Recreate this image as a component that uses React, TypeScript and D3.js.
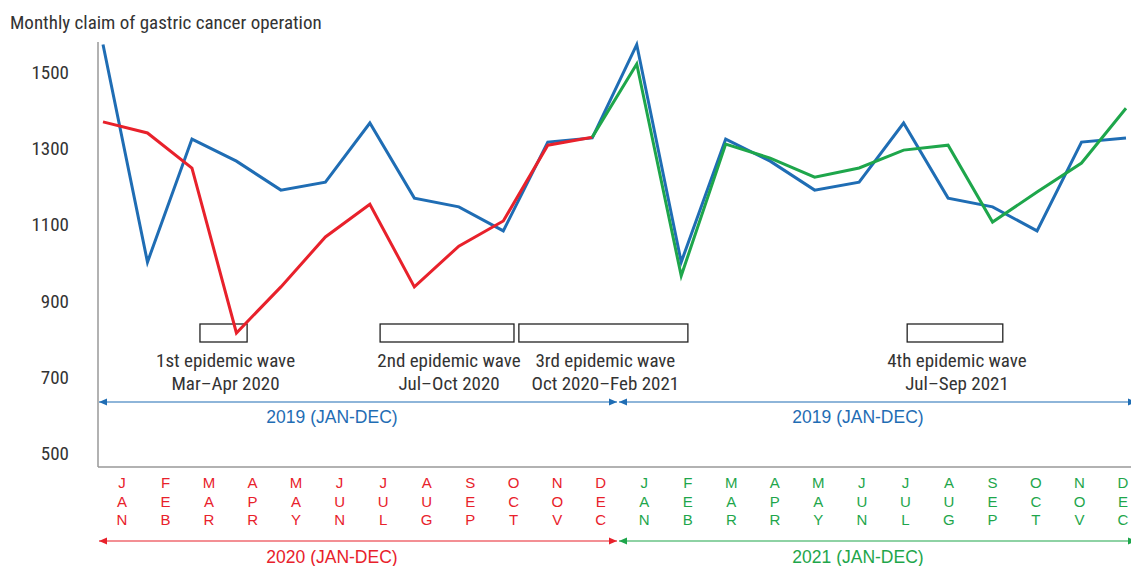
import React from "react";
import * as d3 from "d3";

const months = ["JAN", "FEB", "MAR", "APR", "MAY", "JUN", "JUL", "AUG", "SEP", "OCT", "NOV", "DEC"];
const yTicks = [500, 700, 900, 1100, 1300, 1500];
const values2019 = [1572, 1001, 1324, 1266, 1190, 1211, 1366, 1169, 1146, 1083, 1316, 1327];
const values2020 = [1369, 1340, 1248, 815, 936, 1067, 1153, 936, 1043, 1109, 1308, 1329];
const values2021 = [1521, 965, 1311, 1274, 1224, 1248, 1295, 1308, 1106, 1185, 1261, 1405];

const waves = [
  { from: 2.18, to: 3.24, line1: "1st epidemic wave", line2: "Mar–Apr 2020" },
  { from: 6.23, to: 9.24, line1: "2nd epidemic wave", line2: "Jul–Oct 2020" },
  { from: 9.35, to: 13.15, line1: "3rd epidemic wave", line2: "Oct 2020–Feb 2021" },
  { from: 18.08, to: 20.23, line1: "4th epidemic wave", line2: "Jul–Sep 2021" },
];

const BLUE = "#1f6db4";
const RED = "#e8212b";
const GREEN = "#1ea64b";
const TEXT = "#333";
const NARROW = "'Liberation Sans Narrow', 'Roboto Condensed', Roboto, sans-serif";
const SANS = "'Liberation Sans', Arial, sans-serif";

export default function App() {
  const W = 1131;
  const H = 566;
  const y = d3.scaleLinear().domain([500, 1500]).range([453, 72]);
  const x = d3.scaleLinear().domain([0, 23]).range([103, 1126]);
  const xl = d3.scaleLinear().domain([0, 23]).range([122, 1123]);

  const line = d3
    .line<[number, number]>()
    .x((d) => x(d[0]))
    .y((d) => y(d[1]));

  const bluePts: [number, number][] = [...values2019, ...values2019].map((v, i) => [i, v]);
  const redPts: [number, number][] = values2020.map((v, i) => [i, v]);
  const greenPts: [number, number][] = [[11, values2020[11]] as [number, number]].concat(
    values2021.map((v, i) => [i + 12, v] as [number, number])
  );

  const axisLeft = 98;
  const axisBottom = 467;
  const axisTop = 42;

  const arrow = (x1: number, x2: number, yy: number, color: string, label: string, labelX: number, labelY: number, key: string) => (
    <g key={key}>
      <line x1={x1} x2={x2} y1={yy} y2={yy} stroke={color} strokeWidth={1.2} />
      <path d={`M${x1},${yy} L${x1 + 8},${yy - 3.5} L${x1 + 8},${yy + 3.5} Z`} fill={color} />
      <path d={`M${x2},${yy} L${x2 - 8},${yy - 3.5} L${x2 - 8},${yy + 3.5} Z`} fill={color} />
      <text x={labelX} y={labelY} textAnchor="middle" fontFamily={SANS} fontSize={17.5} fill={color}>
        {label}
      </text>
    </g>
  );

  return (
    <svg width={W} height={H} style={{ position: "absolute", left: 0, top: 0, background: "#fff" }}>
      <text x={10} y={29} fontFamily={NARROW} fontSize={19} fill={TEXT}>
        Monthly claim of gastric cancer operation
      </text>

      {yTicks.map((t) => (
        <text key={t} x={69} y={y(t) + 7} textAnchor="end" fontFamily={NARROW} fontSize={19} fill={TEXT}>
          {t}
        </text>
      ))}

      <line x1={axisLeft} x2={axisLeft} y1={axisTop} y2={axisBottom} stroke="#999" strokeWidth={1.5} />
      <line x1={axisLeft} x2={W} y1={axisBottom} y2={axisBottom} stroke="#999" strokeWidth={1.5} />

      {waves.map((w, i) => {
        const x1 = x(w.from);
        const x2 = x(w.to);
        const cx = (x1 + x2) / 2;
        return (
          <g key={i}>
            <rect x={x1} y={324} width={x2 - x1} height={18} fill="none" stroke="#222" strokeWidth={1.3} />
            <text x={cx + 2} y={367} textAnchor="middle" fontFamily={NARROW} fontSize={19} fill={TEXT}>
              {w.line1}
            </text>
            <text x={cx + 2} y={390} textAnchor="middle" fontFamily={NARROW} fontSize={19} fill={TEXT}>
              {w.line2}
            </text>
          </g>
        );
      })}

      <path d={line(bluePts) || ""} fill="none" stroke={BLUE} strokeWidth={3} strokeLinejoin="miter" />
      <path d={line(redPts) || ""} fill="none" stroke={RED} strokeWidth={3} />
      <path d={line(greenPts) || ""} fill="none" stroke={GREEN} strokeWidth={3} />

      {arrow(99, 617, 402, BLUE, "2019 (JAN-DEC)", 332, 423, "a1")}
      {arrow(619, 1136, 402, BLUE, "2019 (JAN-DEC)", 858, 423, "a2")}
      {arrow(99, 617, 541, RED, "2020 (JAN-DEC)", 332, 563, "a3")}
      {arrow(619, 1136, 541, GREEN, "2021 (JAN-DEC)", 858, 563, "a4")}

      {[...months, ...months].map((m, i) => (
        <g key={i}>
          {m.split("").map((c, j) => (
            <text
              key={j}
              x={xl(i)}
              y={488 + j * 18.5}
              textAnchor="middle"
              fontFamily={SANS}
              fontSize={15}
              fill={i < 12 ? RED : GREEN}
            >
              {c}
            </text>
          ))}
        </g>
      ))}
    </svg>
  );
}
